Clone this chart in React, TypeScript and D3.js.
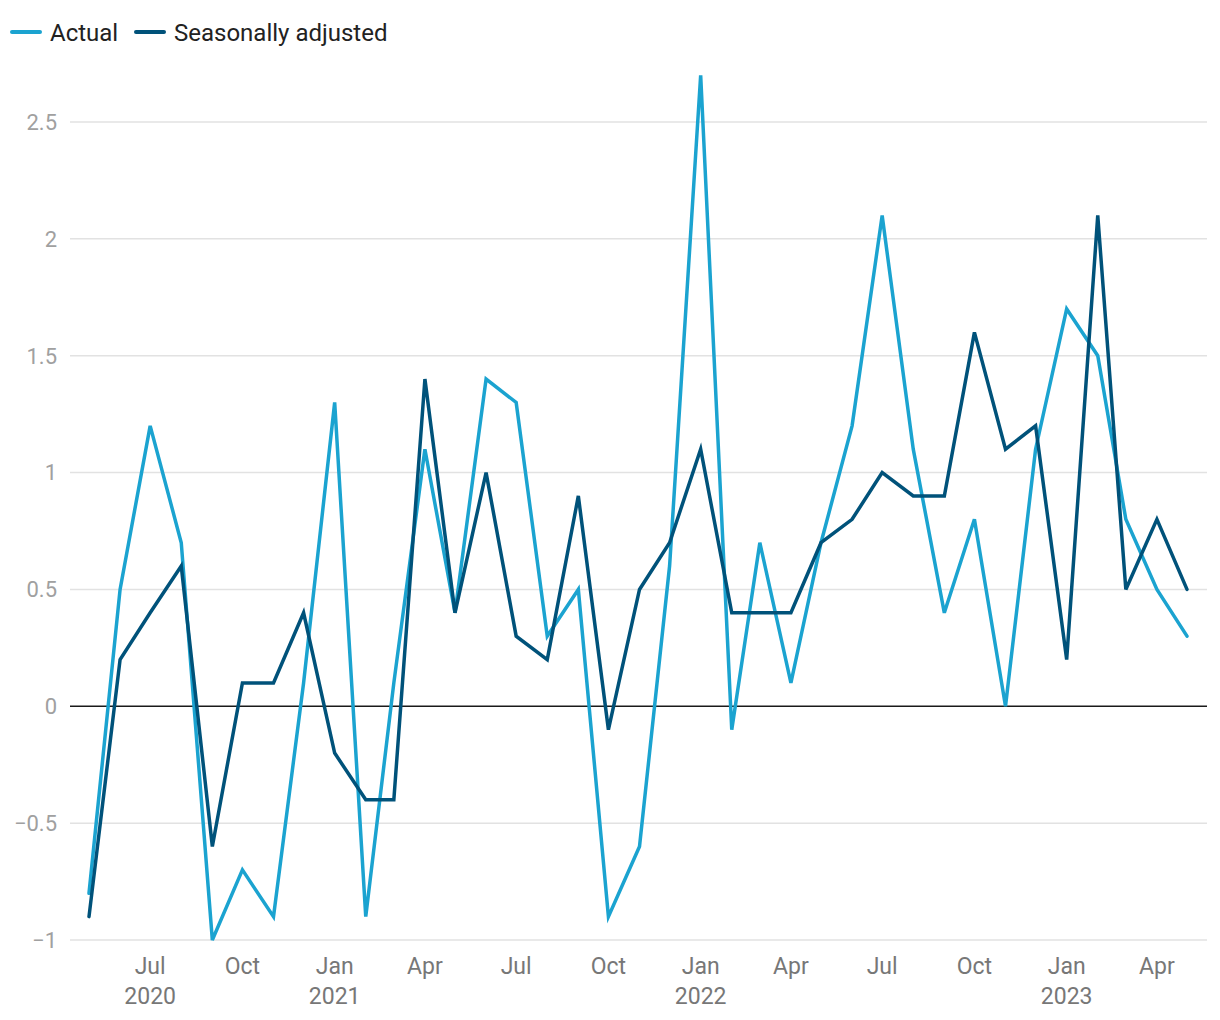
import React from "react";
import * as d3 from "d3";

const months: string[] = [
  "2020-05","2020-06","2020-07","2020-08","2020-09","2020-10","2020-11","2020-12",
  "2021-01","2021-02","2021-03","2021-04","2021-05","2021-06","2021-07","2021-08","2021-09","2021-10","2021-11","2021-12",
  "2022-01","2022-02","2022-03","2022-04","2022-05","2022-06","2022-07","2022-08","2022-09","2022-10","2022-11","2022-12",
  "2023-01","2023-02","2023-03","2023-04","2023-05",
];

const actual: number[] = [
  -0.8, 0.5, 1.2, 0.7, -1.0, -0.7, -0.9, 0.1,
  1.3, -0.9, 0.1, 1.1, 0.4, 1.4, 1.3, 0.3, 0.5, -0.9, -0.6, 0.6,
  2.7, -0.1, 0.7, 0.1, 0.7, 1.2, 2.1, 1.1, 0.4, 0.8, 0.0, 1.1,
  1.7, 1.5, 0.8, 0.5, 0.3,
];

const seasonallyAdjusted: number[] = [
  -0.9, 0.2, 0.4, 0.6, -0.6, 0.1, 0.1, 0.4,
  -0.2, -0.4, -0.4, 1.4, 0.4, 1.0, 0.3, 0.2, 0.9, -0.1, 0.5, 0.7,
  1.1, 0.4, 0.4, 0.4, 0.7, 0.8, 1.0, 0.9, 0.9, 1.6, 1.1, 1.2,
  0.2, 2.1, 0.5, 0.8, 0.5,
];

const yTicks: number[] = [-1, -0.5, 0, 0.5, 1, 1.5, 2, 2.5];
const xTicks: string[] = ["2020-07","2020-10","2021-01","2021-04","2021-07","2021-10","2022-01","2022-04","2022-07","2022-10","2023-01","2023-04"];

const seriesNames = ["Actual", "Seasonally adjusted"];
const COLORS = ["#1ba3d0", "#00527a"];

const parse = d3.timeParse("%Y-%m");
const monthNames = ["Jan","Feb","Mar","Apr","May","Jun","Jul","Aug","Sep","Oct","Nov","Dec"];

export default function App() {
  const W = 1220, H = 1020;
  const left = 70, right = 1207;
  const x = d3.scaleTime()
    .domain([parse("2020-05") as Date, parse("2023-05") as Date])
    .range([89, 1187]);
  const y = d3.scaleLinear().domain([-1, 2.5]).range([940, 122]);
  const dates = months.map((m) => parse(m) as Date);
  const line = d3.line<number>()
    .x((_, i) => x(dates[i]))
    .y((v) => y(v));
  const font = "Roboto, 'Noto Sans', sans-serif";
  const fmt = (v: number) => (v < 0 ? "\u2212" + String(Math.abs(v)) : String(v));

  return (
    <svg width={W} height={H} style={{ position: "absolute", left: 0, top: 0, fontFamily: font }}>
      <rect x={0} y={0} width={W} height={H} fill="#fff" />
      {/* legend */}
      <g>
        <line x1={12} x2={40} y1={32} y2={32} stroke={COLORS[0]} strokeWidth={4} strokeLinecap="round" />
        <text x={50} y={40.5} fontSize={24} fill="#222">{seriesNames[0]}</text>
        <line x1={136} x2={164} y1={32} y2={32} stroke={COLORS[1]} strokeWidth={4} strokeLinecap="round" />
        <text x={174} y={40.5} fontSize={24} fill="#222">{seriesNames[1]}</text>
      </g>
      {/* grid */}
      {yTicks.filter((t) => t !== 0).map((t) => (
        <line key={t} x1={left} x2={right} y1={y(t)} y2={y(t)} stroke="#e2e2e2" strokeWidth={1.5} />
      ))}
      {yTicks.map((t) => (
        <text key={"l" + t} x={57} y={y(t)} dy="0.36em" textAnchor="end" fontSize={22} fill="#a0a0a0">{fmt(t)}</text>
      ))}
      {/* x labels */}
      {xTicks.map((m, i) => {
        const d = parse(m) as Date;
        const showYear = i === 0 || d.getMonth() === 0;
        return (
          <g key={m} transform={`translate(${x(d)},0)`}>
            <text y={974} textAnchor="middle" fontSize={23} fill="#777">{monthNames[d.getMonth()]}</text>
            {showYear && <text y={1004} textAnchor="middle" fontSize={23} fill="#777">{d.getFullYear()}</text>}
          </g>
        );
      })}
      {/* zero line */}
      <line x1={left} x2={right} y1={y(0)} y2={y(0)} stroke="#1a1a1a" strokeWidth={1.5} />
      {/* series */}
      <path d={line(actual) || ""} fill="none" stroke={COLORS[0]} strokeWidth={3.5} strokeLinejoin="miter" strokeLinecap="round" />
      <path d={line(seasonallyAdjusted) || ""} fill="none" stroke={COLORS[1]} strokeWidth={3.5} strokeLinejoin="miter" strokeLinecap="round" />
    </svg>
  );
}
